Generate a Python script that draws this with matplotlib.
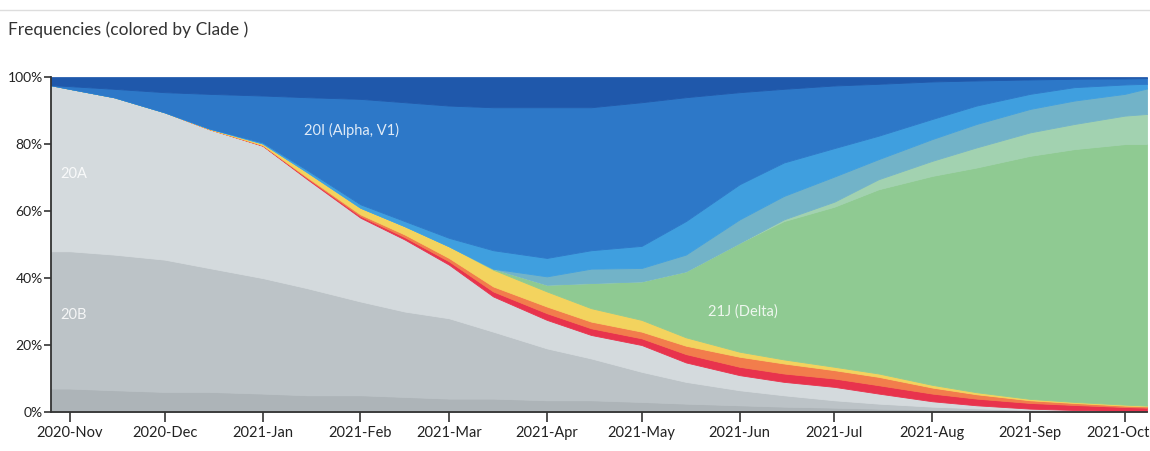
import pandas as pd
import matplotlib.pyplot as plt
import matplotlib.dates as mdates
import matplotlib.transforms as mtransforms
from matplotlib.lines import Line2D

plt.rcParams['font.family'] = ['Lato', 'DejaVu Sans']

# sample dates (semi-monthly)
dates = pd.to_datetime([
    '2020-10-26', '2020-11-01', '2020-11-15', '2020-12-01', '2020-12-15',
    '2021-01-01', '2021-01-15', '2021-02-01', '2021-02-15', '2021-03-01',
    '2021-03-15', '2021-04-01', '2021-04-15', '2021-05-01', '2021-05-15',
    '2021-06-01', '2021-06-15', '2021-07-01', '2021-07-15', '2021-08-01',
    '2021-08-15', '2021-09-01', '2021-09-15', '2021-10-01', '2021-10-08',
])

# clade frequencies in percent, bottom of the stack first
freq_19b = [7, 7, 6.5, 6, 6, 5.5, 5, 5, 4.5, 4, 4, 3.5, 3.5, 3, 2.5,
            2, 1.6, 1.3, 1, 0.7, 0.5, 0.3, 0.2, 0.1, 0.05]
freq_20b = [41, 41, 40.5, 39.5, 37, 34.5, 32, 28, 25.5, 24, 20, 15.5, 12.5, 9, 6.5,
            4.5, 3.4, 2.2, 1.5, 0.9, 0.6, 0.3, 0.2, 0.1, 0.05]
freq_20a = [49.6, 48.5, 47, 44, 41.5, 39.5, 32.6, 25, 21.5, 16, 10.5, 8.5, 7, 8, 5.8,
            4.5, 4, 4, 3, 1.6, 0.9, 0.4, 0.2, 0.1, 0.1]
freq_red = [0, 0, 0, 0, 0, 0.1, 0.3, 0.5, 0.7, 1, 1.5, 2, 2, 2, 2.5,
            2.5, 2.5, 2.5, 2.5, 2.3, 2, 1.7, 1.5, 1.2, 1.1]
freq_orange = [0, 0, 0, 0, 0, 0.1, 0.3, 0.5, 0.8, 1, 1.5, 2, 2, 2, 2.5,
               3, 3, 2.5, 2.5, 1.8, 1.3, 0.8, 0.6, 0.4, 0.4]
freq_yellow = [0, 0, 0, 0, 0.2, 0.5, 1.5, 2, 2.5, 3.5, 5, 4.5, 4, 3.5, 2.5,
               1.5, 1.2, 1, 1, 0.8, 0.6, 0.4, 0.3, 0.3, 0.2]
freq_21j = [0, 0, 0, 0, 0, 0, 0, 0, 0, 0, 0.3, 2, 7.5, 11.5, 19.7,
            32.5, 41.3, 47.8, 55, 62.4, 67.1, 72.6, 75.5, 77.8, 78.1]
freq_21i = [0, 0, 0, 0, 0, 0, 0, 0, 0, 0, 0, 0, 0, 0, 0,
            0, 0.5, 1.5, 3, 4.5, 6, 7, 7.5, 8.5, 9]
freq_21a = [0, 0, 0, 0, 0, 0, 0, 0, 0, 0, 0, 2.5, 4.3, 4, 5,
            7, 7, 7.5, 6, 6.5, 7, 7, 7, 6.5, 7.6]
freq_20j = [0, 0, 0, 0, 0, 0.3, 0.6, 1, 1.5, 2.5, 5.5, 5.5, 5.5, 6.6, 10,
            10.5, 10, 8.5, 7, 6, 5.5, 4.5, 4, 2.8, 1.4]
freq_20i = [0, 0.8, 2.5, 6, 10.3, 14, 21.7, 31.5, 35.5, 39.5, 42.7, 45, 42.7, 42.9, 37,
            27.5, 22, 18.7, 15.5, 11.2, 7.5, 4.3, 2.5, 1.8, 1.7]
freq_top = [2.4, 2.7, 3.5, 4.5, 5, 5.5, 6, 6.5, 7.5, 8.5, 9, 9, 9, 7.5, 6,
            4.5, 3.5, 2.5, 2, 1.3, 1, 0.7, 0.5, 0.4, 0.3]

layers = [freq_19b, freq_20b, freq_20a, freq_red, freq_orange, freq_yellow,
          freq_21j, freq_21i, freq_21a, freq_20j, freq_20i, freq_top]
colors = ['#adb4b8', '#bcc3c7', '#d4dadd', '#e8334d', '#f27d4c', '#f3d35e',
          '#8fca92', '#a2d2b0', '#72b3c8', '#3f9fdf', '#2d78c8', '#1f58ab']

fig = plt.figure(figsize=(11.5, 4.51), dpi=100)
ax = fig.add_axes([0.0443, 0.0865, 0.9531, 0.7425])

polys = ax.stackplot(dates, *layers, colors=colors, linewidth=0)
for p, c in zip(polys, colors):
    p.set_edgecolor(c)
    p.set_linewidth(0.6)

ax.set_xlim(dates[0], dates[-1])
ax.set_ylim(0, 100)

ax.set_yticks([0, 20, 40, 60, 80, 100])
ax.set_yticklabels(['0%', '20%', '40%', '60%', '80%', '100%'])
ax.xaxis.set_major_locator(mdates.MonthLocator())
ax.xaxis.set_major_formatter(mdates.DateFormatter('%Y-%b'))

for s in ['top', 'right']:
    ax.spines[s].set_visible(False)
for s in ['left', 'bottom']:
    ax.spines[s].set_color('#333333')
    ax.spines[s].set_linewidth(1.3)
ax.tick_params(axis='y', length=5, width=1.2, color='#333333', labelsize=10, labelcolor='#222222', pad=1)
ax.tick_params(axis='x', length=7, width=1.2, color='#333333', labelsize=10.5, labelcolor='#222222', pad=3)

# clade labels
lab = dict(color='white', fontsize=10.5, alpha=0.85, va='center', ha='left')
ax.text(pd.Timestamp('2020-10-29'), 71, '20A', **lab)
ax.text(pd.Timestamp('2020-10-29'), 29, '20B', **lab)
ax.text(pd.Timestamp('2021-01-14'), 84, '20I (Alpha, V1)', **lab)
ax.text(pd.Timestamp('2021-05-22'), 30, '21J (Delta)', **lab)

fig.text(0.007, 0.935, 'Frequencies (colored by Clade )', fontsize=12.5, color='#333333', va='center')
fig.add_artist(Line2D([0, 1], [0.978, 0.978], color='#dddddd', linewidth=1))

# keep the last month label inside the canvas
fig.canvas.draw()
last = ax.get_xticklabels()[-1]
last.set_transform(last.get_transform() +
                   mtransforms.ScaledTranslation(-7 / 100, 0, fig.dpi_scale_trans))

fig.savefig('out.png', dpi=100)
